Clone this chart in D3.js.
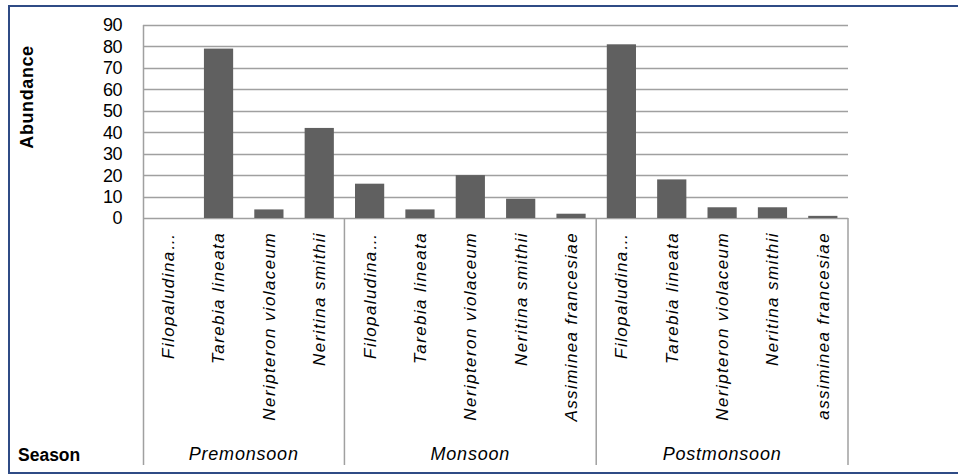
<!DOCTYPE html>
<html>
<head>
<meta charset="utf-8">
<script src="https://cdn.jsdelivr.net/npm/d3@7"></script>
<style>
  html, body { margin: 0; padding: 0; background: #ffffff; }
  svg { display: block; }
</style>
</head>
<body>
<svg id="chart" width="958" height="475"></svg>
<script>
// ---- data ----
const seasons = ["Premonsoon", "Monsoon", "Postmonsoon"];
const premonsoonSpecies = ["Filopaludina…", "Tarebia lineata", "Neripteron violaceum", "Neritina smithii"];
const premonsoonValues  = [0, 79, 4, 42];
const monsoonSpecies = ["Filopaludina…", "Tarebia lineata", "Neripteron violaceum", "Neritina smithii", "Assiminea francesiae"];
const monsoonValues  = [16, 4, 20, 9, 2];
const postmonsoonSpecies = ["Filopaludina…", "Tarebia lineata", "Neripteron violaceum", "Neritina smithii", "assiminea francesiae"];
const postmonsoonValues  = [81, 18, 5, 5, 1];
const yTicks = [0, 10, 20, 30, 40, 50, 60, 70, 80, 90];

(function () {
// ---- build rows ----
const groups = [
  { name: seasons[0], species: premonsoonSpecies, values: premonsoonValues },
  { name: seasons[1], species: monsoonSpecies, values: monsoonValues },
  { name: seasons[2], species: postmonsoonSpecies, values: postmonsoonValues }
];
const rows = [];
groups.forEach((g, gi) => {
  g.start = rows.length;
  g.species.forEach((s, i) => rows.push({ key: rows.length, label: s, value: g.values[i], group: gi }));
  g.end = rows.length;
});

const svg = d3.select("#chart");
const pLeft = 143, pRight = 848, pTop = 25, base = 218, axisBottom = 465;

const pi = 0.42;
const x = d3.scaleBand().domain(rows.map(d => d.key)).range([pLeft, pRight])
  .paddingInner(pi).paddingOuter(pi / 2);
const y = d3.scaleLinear().domain([0, 90]).range([base, pTop]);
const step = x.step();
const slotStart = i => pLeft + step * i;

// outer border
svg.append("rect").attr("x", 9).attr("y", 6).attr("width", 970).attr("height", 467)
  .attr("fill", "none").attr("stroke", "#2f4b85").attr("stroke-width", 2);

const gridColor = "#a0a0a0";
// gridlines
svg.append("g").selectAll("line").data(yTicks).join("line")
  .attr("x1", pLeft).attr("x2", pRight)
  .attr("y1", d => Math.round(y(d)) + 0.5).attr("y2", d => Math.round(y(d)) + 0.5)
  .attr("stroke", gridColor).attr("stroke-width", 1.5);

// y tick labels
svg.append("g").selectAll("text").data(yTicks).join("text")
  .attr("x", 122).attr("y", d => y(d)).attr("dy", "0.36em")
  .attr("text-anchor", "end")
  .attr("font-family", "Liberation Sans, Arial, sans-serif").attr("font-size", 18)
  .attr("letter-spacing", "-0.5px")
  .attr("fill", "#000").text(d => d);

// bars
svg.append("g").selectAll("rect").data(rows).join("rect")
  .attr("x", d => x(d.key)).attr("width", x.bandwidth())
  .attr("y", d => y(d.value)).attr("height", d => base - y(d.value))
  .attr("fill", "#606060");

// axis lines
svg.append("line").attr("x1", pLeft + 0.5).attr("x2", pLeft + 0.5).attr("y1", pTop).attr("y2", axisBottom)
  .attr("stroke", gridColor).attr("stroke-width", 1.5);
const seps = [groups[0].end, groups[1].end, groups[2].end];
svg.append("g").selectAll("line").data(seps).join("line")
  .attr("x1", d => slotStart(d)).attr("x2", d => slotStart(d))
  .attr("y1", base).attr("y2", axisBottom)
  .attr("stroke", gridColor).attr("stroke-width", 1.5);

// category labels
svg.append("g").selectAll("text").data(rows).join("text")
  .attr("transform", d => `translate(${x(d.key) + x.bandwidth() / 2},232) rotate(-90)`)
  .attr("dy", "0.35em")
  .attr("text-anchor", "end")
  .attr("font-family", "Liberation Sans, Arial, sans-serif").attr("font-size", 17)
  .attr("font-style", "italic").attr("letter-spacing", "1.4px")
  .attr("fill", "#000").text(d => d.label);

// season labels
svg.append("g").selectAll("text").data(groups).join("text")
  .attr("x", d => (slotStart(d.start) + slotStart(d.end)) / 2).attr("y", 460)
  .attr("text-anchor", "middle")
  .attr("font-family", "Liberation Sans, Arial, sans-serif").attr("font-size", 18)
  .attr("font-style", "italic").attr("letter-spacing", "0.8px")
  .attr("fill", "#000").text(d => d.name);

// axis titles
svg.append("text").attr("transform", "translate(33,97) rotate(-90)")
  .attr("text-anchor", "middle")
  .attr("font-family", "Liberation Sans, Arial, sans-serif").attr("font-size", 18)
  .attr("font-weight", "bold").attr("letter-spacing", "0.6px")
  .attr("fill", "#000").text("Abundance");
svg.append("text").attr("x", 18).attr("y", 461)
  .attr("font-family", "Liberation Sans, Arial, sans-serif").attr("font-size", 17.5)
  .attr("font-weight", "bold")
  .attr("fill", "#000").text("Season");
})();
</script>
</body>
</html>
